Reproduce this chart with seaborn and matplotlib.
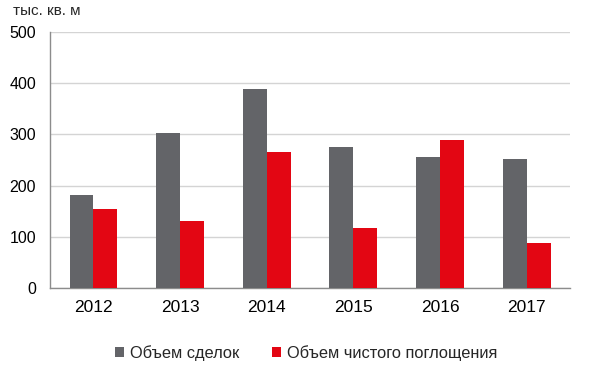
import matplotlib
matplotlib.use("Agg")
import matplotlib.pyplot as plt
import seaborn as sns
import pandas as pd
import numpy as np

years = ["2012", "2013", "2014", "2015", "2016", "2017"]
deals = [181, 302, 388, 275, 256, 251]
absorption = [155, 130, 266, 118, 290, 87]
series_names = ["Объем сделок", "Объем чистого поглощения"]
colors = ["#636468", "#E30613"]

df = pd.DataFrame({
    "year": years * 2,
    "value": deals + absorption,
    "series": [series_names[0]] * len(years) + [series_names[1]] * len(years),
})

sns.set_theme(style="white")
plt.rcParams["font.family"] = ["Liberation Sans", "DejaVu Sans"]

fig = plt.figure(figsize=(6, 3.7), dpi=100)
ax = fig.add_axes([50/600, (370-288)/370, 520/600, 256/370])

sns.barplot(data=df, x="year", y="value", hue="series", palette=colors,
            width=0.55, gap=0, saturation=1, ax=ax, legend=True, zorder=3,
            linewidth=0, edgecolor="none")

ax.set_ylim(0, 500)
ax.set_xlim(-0.5, 5.5)
ax.set_yticks([0, 100, 200, 300, 400, 500])
ax.yaxis.grid(True, color="#d4d4d4", linewidth=1, zorder=0)
ax.set_axisbelow(True)
ax.set_xlabel("")
ax.set_ylabel("")
for s in ["top", "right"]:
    ax.spines[s].set_visible(False)
for s in ["left", "bottom"]:
    ax.spines[s].set_color("#8c8c8c")
    ax.spines[s].set_linewidth(1)
ax.tick_params(axis="y", length=4, width=1, color="#b0b0b0", labelsize=11.5, pad=6,
               labelcolor="#000000")
ax.tick_params(axis="x", which="major", length=0, labelsize=12.5, pad=9, labelcolor="#000000")
ax.set_xticks(np.arange(-0.5, 6, 1), minor=True)
ax.tick_params(axis="x", which="minor", length=5, color="#8c8c8c", width=1, direction="out")

fig.text(13/600, 1 - 11/370, "тыс. кв. м", fontsize=11, va="center", ha="left")

handles, labels = ax.get_legend_handles_labels()
ax.legend_.remove()
fig.legend(handles, labels, loc="center", bbox_to_anchor=(0.51, 1 - 353/370),
           ncol=2, frameon=False, fontsize=11.8, handlelength=0.55, handleheight=0.55,
           handletextpad=0.35, columnspacing=2.0)

fig.savefig("out.png", dpi=100)
